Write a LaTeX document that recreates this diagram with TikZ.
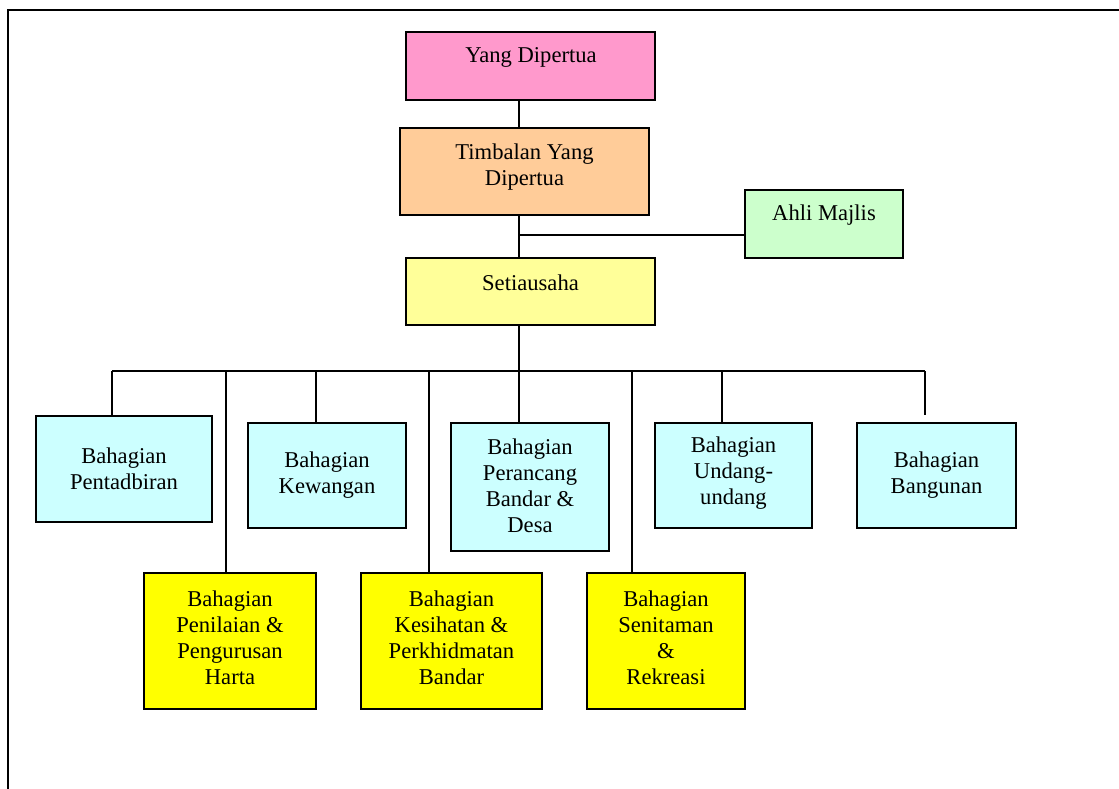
\documentclass[tikz,border=0pt]{standalone}
\usepackage{fontspec}
\setmainfont{Liberation Serif}
\definecolor{cpink}{HTML}{FF99CC}
\definecolor{cpeach}{HTML}{FFCC99}
\definecolor{cgreen}{HTML}{CCFFCC}
\definecolor{clyellow}{HTML}{FFFF99}
\definecolor{ccyan}{HTML}{CCFFFF}
\definecolor{cyellow}{HTML}{FFFF00}
\tikzset{
  orgbox/.style={draw=black, line width=1.6pt, rectangle, inner sep=0pt},
  txt/.style={align=center, font=\fontsize{22.6pt}{26pt}\selectfont, inner sep=0pt},
  conn/.style={line width=1.4pt},
  frame/.style={line width=2pt}
}
\begin{document}
\begin{tikzpicture}[x=1pt,y=-1pt]
\useasboundingbox (0,0) rectangle (1119,789);
% frame
\coordinate (fTL) at (8,10);
\coordinate (fTR) at (1119,10);
\coordinate (fBL) at (8,789);
\draw[frame] (fBL) -- (fTL) -- (fTR);

% boxes
\node[orgbox, fill=cpink, minimum width=249pt, minimum height=68pt] (yd) at (530.5,66) {};
\node[orgbox, fill=cpeach, minimum width=249pt, minimum height=87pt] (tyd) at (524.5,171.5) {};
\node[orgbox, fill=cgreen, minimum width=158pt, minimum height=68pt] (ahli) at (824,224) {};
\node[orgbox, fill=clyellow, minimum width=249pt, minimum height=67pt] (set) at (530.5,291.5) {};
\node[orgbox, fill=ccyan, minimum width=176pt, minimum height=106pt] (pent) at (124,469) {};
\node[orgbox, fill=ccyan, minimum width=158pt, minimum height=105pt] (kew) at (327,475.5) {};
\node[orgbox, fill=ccyan, minimum width=158pt, minimum height=128pt] (per) at (530,487) {};
\node[orgbox, fill=ccyan, minimum width=157pt, minimum height=105pt] (und) at (733.5,475.5) {};
\node[orgbox, fill=ccyan, minimum width=159pt, minimum height=105pt] (bang) at (936.5,475.5) {};
\node[orgbox, fill=cyellow, minimum width=172pt, minimum height=136pt] (pen) at (230,641) {};
\node[orgbox, fill=cyellow, minimum width=181pt, minimum height=136pt] (kes) at (451.5,641) {};
\node[orgbox, fill=cyellow, minimum width=158pt, minimum height=136pt] (sen) at (666,641) {};

% texts
\node[txt] (tyd-t) at (531,57) {Yang Dipertua};
\node[txt] (ttyd-t) at (524.5,167) {Timbalan Yang\\Dipertua};
\node[txt] (tahli-t) at (824,215) {Ahli Majlis};
\node[txt] (tset-t) at (530.5,283) {Setiausaha};
\node[txt] (tpent-t) at (124,469) {Bahagian\\Pentadbiran};
\node[txt] (tkew-t) at (327,475) {Bahagian\\Kewangan};
\node[txt] (tper-t) at (530,486) {Bahagian\\Perancang\\Bandar \&\\Desa};
\node[txt] (tund-t) at (733.5,473) {Bahagian\\Undang-\\undang};
\node[txt] (tbang-t) at (936.5,475) {Bahagian\\Bangunan};
\node[txt] (tpen-t) at (230,638) {Bahagian\\Penilaian \&\\Pengurusan\\Harta};
\node[txt] (tkes-t) at (451.5,638) {Bahagian\\Kesihatan \&\\Perkhidmatan\\Bandar};
\node[txt] (tsen-t) at (666,638) {Bahagian\\Senitaman\\\&\\Rekreasi};

% connectors
\coordinate (spine) at (519,0);
\coordinate (aj) at (519,235);
\coordinate (busL) at (112,371);
\coordinate (busR) at (925,371);
\coordinate (d2) at (226,371);
\coordinate (d3) at (316,371);
\coordinate (d4) at (429,371);
\coordinate (d5) at (519,371);
\coordinate (d6) at (632,371);
\coordinate (d7) at (722,371);

\draw[conn] (yd.south -| spine) -- (tyd.north -| spine);
\draw[conn] (tyd.south -| spine) -- (set.north -| spine);
\draw[conn] (aj) -- (aj -| ahli.west);
\draw[conn] (set.south -| spine) -- (d5);
\draw[conn] (busL) -- (busR);
\draw[conn] (busL) -- (busL |- pent.north);
\draw[conn] (d3) -- (d3 |- kew.north);
\draw[conn] (d5) -- (d5 |- per.north) ;
\draw[conn] (d7) -- (d7 |- und.north);
\draw[conn] (busR) -- (busR |- pent.north);
\draw[conn] (d2) -- (d2 |- pen.north);
\draw[conn] (d4) -- (d4 |- kes.north);
\draw[conn] (d6) -- (d6 |- sen.north);
\end{tikzpicture}
\end{document}
